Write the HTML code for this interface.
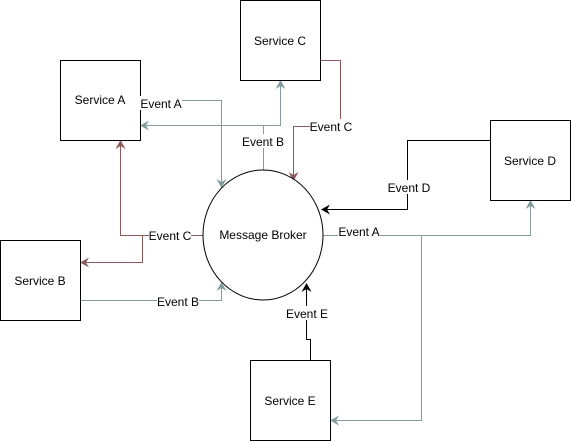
<!DOCTYPE html>
<html><head><style>body{margin:0;background:#fff}svg{display:block}text{font-family:"Liberation Sans",sans-serif;font-size:12px;fill:#000}</style></head><body>
<svg width="571" height="441" viewBox="0 0 571 441">
<defs>
<marker id="g" markerWidth="10" markerHeight="10" refX="8" refY="5" orient="auto" markerUnits="userSpaceOnUse"><path d="M0,0 L9,5 L0,10 L3,5 z" fill="#849b9b"/></marker>
<marker id="r" markerWidth="10" markerHeight="10" refX="8" refY="5" orient="auto" markerUnits="userSpaceOnUse"><path d="M0,0 L9,5 L0,10 L3,5 z" fill="#8c5a5a"/></marker>
<marker id="k" markerWidth="10" markerHeight="10" refX="8" refY="5" orient="auto" markerUnits="userSpaceOnUse"><path d="M0,0 L9,5 L0,10 L3,5 z" fill="#000"/></marker>
</defs>
<g fill="none" stroke-width="1">
<path d="M140.5,100.5 H221.5 V187" stroke="#849b9b" marker-end="url(#g)"/>
<path d="M263.5,170 V125.5 H141" stroke="#849b9b" marker-end="url(#g)"/>
<path d="M263.5,125.5 H280.5 V81" stroke="#849b9b" marker-end="url(#g)"/>
<path d="M320,60.5 H340.5 V126.5 H293.5 V180" stroke="#8c5a5a" marker-end="url(#r)"/>
<path d="M203,235.5 H120.5 V141" stroke="#8c5a5a" marker-end="url(#r)"/>
<path d="M142.5,235.5 V262.5 H81" stroke="#8c5a5a" marker-end="url(#r)"/>
<path d="M80,300.5 H221.5 V283" stroke="#849b9b" marker-end="url(#g)"/>
<path d="M490,140.5 H407.5 V209.5 H322" stroke="#000" marker-end="url(#k)"/>
<path d="M323,235.5 H530.5 V201" stroke="#849b9b" marker-end="url(#g)"/>
<path d="M421.5,235.5 V420.5 H331" stroke="#849b9b" marker-end="url(#g)"/>
<path d="M310.5,360 V339.5 H306.5 V284" stroke="#000" marker-end="url(#k)"/>
<g stroke="#000" fill="#fff">
<rect x="60.5" y="60.5" width="80" height="80"/>
<rect x="240.5" y="0.5" width="80" height="80"/>
<rect x="490.5" y="120.5" width="80" height="80"/>
<rect x="0.5" y="240.5" width="80" height="80"/>
<rect x="250.5" y="360.5" width="80" height="80"/>
<ellipse cx="263" cy="235" rx="60" ry="65"/>
</g>
</g>
<g text-anchor="middle">
<text x="100" y="104">Service A</text>
<text x="280" y="45">Service C</text>
<text x="530" y="165">Service D</text>
<text x="40" y="285">Service B</text>
<text x="290" y="405">Service E</text>
<text x="263" y="239">Message Broker</text>
</g>
<g text-anchor="middle">
<rect x="140" y="96" width="42" height="14" fill="#fff"/><text x="161" y="108">Event A</text>
<rect x="242" y="134" width="42" height="14" fill="#fff"/><text x="263" y="146">Event B</text>
<rect x="310" y="119" width="42" height="14" fill="#fff"/><text x="331" y="131">Event C</text>
<rect x="149" y="228" width="42" height="14" fill="#fff"/><text x="170" y="240">Event C</text>
<rect x="157" y="294" width="42" height="14" fill="#fff"/><text x="178" y="306">Event B</text>
<rect x="388" y="180" width="42" height="14" fill="#fff"/><text x="409" y="192">Event D</text>
<rect x="338" y="228" width="42" height="14" fill="#fff"/><text x="359" y="236">Event A</text>
<rect x="286" y="306" width="42" height="14" fill="#fff"/><text x="307" y="318">Event E</text>
</g>
</svg>
</body></html>
